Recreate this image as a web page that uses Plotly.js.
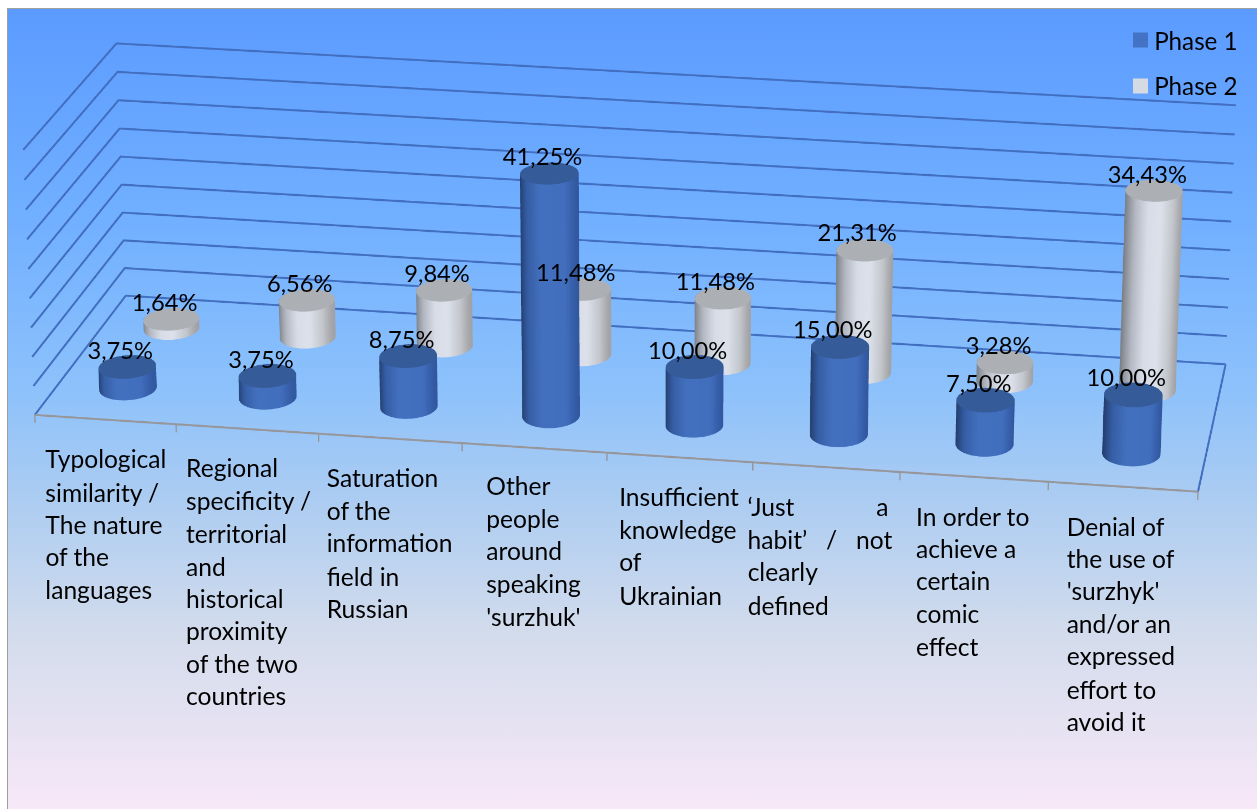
<!DOCTYPE html>
<html>
<head>
<meta charset="utf-8">
<script src="https://cdn.plot.ly/plotly-3.0.1.min.js"></script>
<style>
  html, body { margin: 0; padding: 0; width: 100%; height: 100%; overflow: hidden; background: #fff; }
  #panel {
    position: absolute; left: 7px; top: 8px; right: -4px; bottom: -4px; overflow: hidden;
    border: 1px solid #a0a0a0; box-sizing: border-box;
    background: linear-gradient(180deg, #5b9bff 0%, #72b0ff 27%, #8cc1fb 47%, #aecdf1 62%, #d3dcec 78%, #f8e8f8 100%);
  }
  #chart { position: absolute; left: 0; top: 0; transform-origin: 0 0; }
</style>
</head>
<body>
<div id="panel"></div>
<div id="chart"></div>
<script>
// Survey results by phase
const categories = [
  ["Typological", "similarity /", "The nature", "of the", "languages"],
  ["Regional", "specificity /", "territorial", "and", "historical", "proximity", "of the two", "countries"],
  ["Saturation", "of the", "information", "field in", "Russian"],
  ["Other", "people", "around", "speaking", "'surzhuk'"],
  ["Insufficient", "knowledge", "of", "Ukrainian"],
  ["‘Just\u00a0\u00a0\u00a0\u00a0\u00a0\u00a0\u00a0\u00a0\u00a0\u00a0\u00a0\u00a0\u00a0a", "habit’\u00a0\u00a0\u00a0/\u00a0\u00a0\u00a0not", "clearly", "defined"],
  ["In order to", "achieve a", "certain", "comic", "effect"],
  ["Denial of", "the use of", "'surzhyk'", "and/or an", "expressed", "effort to", "avoid it"]
];
const phase1 = [3.75, 3.75, 8.75, 41.25, 10.00, 15.00, 7.50, 10.00];
const phase2 = [1.64, 6.56, 9.84, 11.48, 11.48, 21.31, 3.28, 34.43];
const gridLevels = [0, 5, 10, 15, 20, 25, 30, 35, 40, 45];
const seriesNames = ["Phase 1", "Phase 2"];

// The long-lens view needs a scene far taller than the window, since the 3D
// camera's field of view is fixed. The drawing buffer tops out at 4096px, so
// the plot is laid out at that height and scaled up by K with CSS.
const H = 4096, K = 4537 / 4096, W = 1289, TOP = -1932;
const chartDiv = document.getElementById('chart');
chartDiv.style.top = TOP + 'px';
chartDiv.style.transform = 'scale(' + K + ')';

const FONT = 'Lato, Carlito, sans-serif';
const VALUE_SIZE = 23.7 / K, CAPTION_SIZE = 24.6 / K, LEGEND_SIZE = 24.2 / K;
const BAR_RX = 0.197, BAR_RY = 0.096, SEGMENTS = 64;
const PHASE_Y = [0.25, 0.75];

const sideStops = [
  [[-1, 33, 58, 102], [-0.6, 54, 94, 165], [-0.1, 66, 111, 190], [0.7, 66, 110, 190], [1, 50, 88, 160]],
  [[-1, 118, 122, 128], [-0.55, 180, 184, 194], [-0.1, 215, 220, 230], [0.35, 220, 225, 235], [0.75, 195, 198, 204], [1, 160, 162, 165]]
];
const capColor = ['rgb(53,92,153)', 'rgb(172,175,180)'];
const swatchColor = ['#4472c4', '#d5dae3'];

function sideColor(stops, s) {
  for (let n = 1; n < stops.length; n++) {
    if (s <= stops[n][0]) {
      const a = stops[n - 1], b = stops[n], t = (s - a[0]) / (b[0] - a[0]);
      return 'rgb(' + [1, 2, 3].map(c => Math.round(a[c] + (b[c] - a[c]) * t)).join(',') + ')';
    }
  }
  const l = stops[stops.length - 1];
  return 'rgb(' + l[1] + ',' + l[2] + ',' + l[3] + ')';
}

// One mesh per phase: side wall plus top cap of every cylinder.
function cylinders(values, phaseIndex) {
  const x = [], y = [], z = [], i = [], j = [], k = [], colors = [];
  const stops = sideStops[phaseIndex], cy = PHASE_Y[phaseIndex];
  values.forEach((v, cat) => {
    const cx = cat + 0.5, base = x.length;
    for (let n = 0; n <= SEGMENTS; n++) {
      const a = 2 * Math.PI * n / SEGMENTS;
      const px = cx + BAR_RX * Math.cos(a), py = cy + BAR_RY * Math.sin(a);
      const col = sideColor(stops, Math.cos(a));
      x.push(px, px); y.push(py, py); z.push(0, v); colors.push(col, col);
    }
    for (let n = 0; n < SEGMENTS; n++) {
      const p = base + 2 * n;
      i.push(p, p + 1); j.push(p + 1, p + 3); k.push(p + 2, p + 2);
    }
    const capBase = x.length;
    x.push(cx); y.push(cy); z.push(v); colors.push(capColor[phaseIndex]);
    for (let n = 0; n <= SEGMENTS; n++) {
      const a = 2 * Math.PI * n / SEGMENTS;
      x.push(cx + BAR_RX * Math.cos(a)); y.push(cy + BAR_RY * Math.sin(a)); z.push(v);
      colors.push(capColor[phaseIndex]);
    }
    for (let n = 0; n < SEGMENTS; n++) {
      i.push(capBase); j.push(capBase + 1 + n); k.push(capBase + 2 + n);
    }
  });
  return {
    type: 'mesh3d', name: seriesNames[phaseIndex], x, y, z, i, j, k, vertexcolor: colors,
    hoverinfo: 'skip', showlegend: false,
    lighting: { ambient: 1, diffuse: 0, specular: 0, roughness: 1, fresnel: 0 }, flatshading: false
  };
}

function polyline(xs, ys, zs, color, width) {
  return { type: 'scatter3d', mode: 'lines', x: xs, y: ys, z: zs, hoverinfo: 'skip', showlegend: false,
           line: { color, width } };
}

const GRID = 'rgb(66,110,192)', AXIS = 'rgb(150,150,155)';
const NC = categories.length;
const traces = [];
gridLevels.forEach(g => traces.push(polyline([0, 0, NC], [0, 1, 1], [g, g, g], GRID, 3.6)));
traces.push(polyline([0, NC], [0, 0], [0, 0], AXIS, 3.6));
traces.push(polyline([NC, NC], [0, 1], [0, 0], GRID, 3.6));
for (let c = 0; c <= NC; c++) traces.push(polyline([c, c], [0, 0], [0, -1.4], AXIS, 2.4));
traces.push(cylinders(phase2, 1));
traces.push(cylinders(phase1, 0));

// Screen pixels to paper fractions, allowing for the CSS scale and offset
const paperX = px => px / (W * K);
const paperY = py => 1 - (py - TOP) / (H * K);

const fmt = v => v.toFixed(2).replace('.', ',') + '%';
const sceneLabels = [];
[[phase2, 1], [phase1, 0]].forEach(([vals, p]) => vals.forEach((v, c) => {
  sceneLabels.push({ x: c + 0.5, y: PHASE_Y[p], z: v, text: fmt(v), showarrow: false, xshift: -7 / K, yshift: 17.5 / K,
    font: { family: FONT, size: VALUE_SIZE, color: '#000' } });
}));

// Wrapped category captions, one annotation per line
const capX = [43, 184, 324, 484, 617, 746, 914, 1064];
const capY = [459, 468, 478, 486, 497, 507, 516, 526];
const LINE = 32.6;
const paperNotes = [];
categories.forEach((lines, c) => lines.forEach((t, n) => {
  paperNotes.push({ xref: 'paper', yref: 'paper', x: paperX(capX[c]), y: paperY(capY[c] + n * LINE),
    xanchor: 'left', yanchor: 'middle', showarrow: false, text: t,
    font: { family: FONT, size: CAPTION_SIZE, color: '#000' } });
}));

// Series key in the top right corner
const keyY = [40, 86];
const keyShapes = seriesNames.map((name, n) => ({
  type: 'rect', xref: 'paper', yref: 'paper', layer: 'above', line: { width: 0 }, fillcolor: swatchColor[n],
  x0: paperX(1133), x1: paperX(1148), y0: paperY(keyY[n] + 7.5), y1: paperY(keyY[n] - 7.5)
}));
seriesNames.forEach((name, n) => {
  paperNotes.push({ xref: 'paper', yref: 'paper', x: paperX(1152), y: paperY(keyY[n]),
    xanchor: 'left', yanchor: 'middle', showarrow: false, text: name,
    font: { family: FONT, size: LEGEND_SIZE, color: '#000' } });
});

const hidden = { visible: false, showgrid: false, zeroline: false, showspikes: false, title: { text: '' } };
const layout = {
  width: W, height: H, margin: { l: 0, r: 0, t: 0, b: 0 }, autosize: false,
  paper_bgcolor: 'rgba(0,0,0,0)', plot_bgcolor: 'rgba(0,0,0,0)', hovermode: false,
  showlegend: false,
  annotations: paperNotes,
  shapes: keyShapes,
  scene: {
    domain: { x: [0, 1], y: [0, 1] }, bgcolor: 'rgba(0,0,0,0)',
    aspectmode: 'manual', aspectratio: { x: 1.25, y: 0.596, z: 0.29419 },
    xaxis: Object.assign({ range: [-1, 9] }, hidden),
    yaxis: Object.assign({ range: [-0.5, 1.5] }, hidden),
    zaxis: Object.assign({ range: [-5, 50] }, hidden),
    camera: {
      projection: { type: 'perspective' },
      eye: { x: 0.78458, y: -4.37079, z: 1.62192 },
      center: { x: 0.0730, y: -0.0373, z: -0.0523 },
      up: { x: -0.06165, y: 0.3509, z: 0.93436 }
    },
    annotations: sceneLabels
  }
};
Plotly.newPlot(chartDiv, traces, layout, { displayModeBar: false, responsive: false });
</script>
</body>
</html>
